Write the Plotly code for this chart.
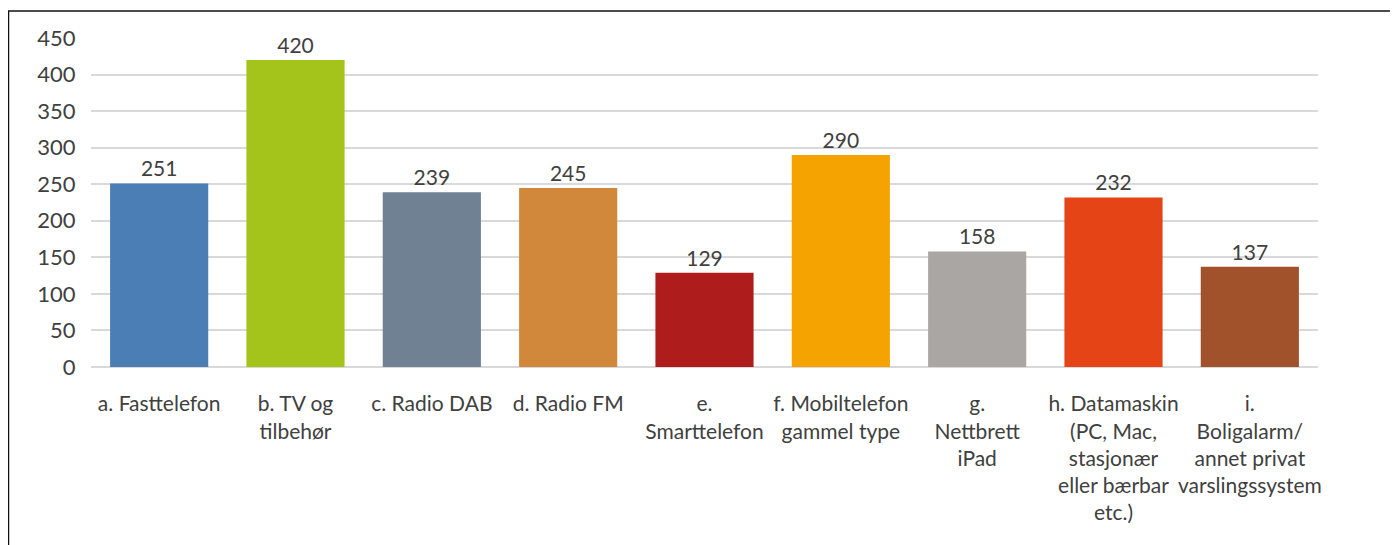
import plotly.graph_objects as go

categories = [
    "a. Fasttelefon",
    "b. TV og<br>tilbehør",
    "c. Radio DAB",
    "d. Radio FM",
    "e.<br>Smarttelefon",
    "f. Mobiltelefon<br>gammel type",
    "g.<br>Nettbrett<br>iPad",
    "h. Datamaskin<br>(PC, Mac,<br>stasjonær<br>eller bærbar<br>etc.)",
    "i.<br>Boligalarm/<br>annet privat<br>varslingssystem",
]
values = [251, 420, 239, 245, 129, 290, 158, 232, 137]
colors = ["#4A7EB5", "#A5C41B", "#6F8193", "#D2883A", "#AE1D1B",
          "#F5A300", "#AAA6A4", "#E44416", "#A1522B"]
y_ticks = [0, 50, 100, 150, 200, 250, 300, 350, 400, 450]

FONT = "Lato, Calibri, Carlito, sans-serif"
TXT = "#404040"

fig = go.Figure(go.Bar(
    x=categories, y=values,
    marker=dict(color=colors, line=dict(width=0)),
    text=[str(v) for v in values], textposition="outside",
    textfont=dict(family=FONT, size=21, color=TXT),
    cliponaxis=False,
))

# page body has an 8px margin, so the figure starts at (8, 8)
OFF = 8
W, H = 1398 - OFF, 545 - OFF
PL, PR, PT, PB = 91, 1318, 38, 367  # plot area in window pixels
L, T = PL - OFF, PT - OFF
R = W - (PR - OFF)
B = H - (PB - OFF)
pw, ph = W - L - R, H - T - B

def px_x(x):
    return (x - OFF - L) / pw

def px_y(y):
    return (H - B - (y - OFF)) / ph

fig.update_layout(
    width=W, height=H,
    margin=dict(l=L, r=R, t=T, b=B, autoexpand=False),
    paper_bgcolor="white", plot_bgcolor="white",
    bargap=0.28,
    showlegend=False,
    font=dict(family=FONT, size=21, color=TXT),
    xaxis=dict(
        tickvals=categories, ticktext=categories,
        tickangle=0, automargin=False,
        ticks="outside", ticklen=18, tickcolor="rgba(0,0,0,0)",
        showline=False, showgrid=False,
        tickfont=dict(family=FONT, size=21, color=TXT),
    ),
    yaxis=dict(
        range=[0, 450], tickvals=y_ticks, automargin=False,
        showgrid=True, gridcolor="#D9D9D9", gridwidth=1.5,
        zeroline=True, zerolinecolor="#D9D9D9", zerolinewidth=1.5,
        ticks="outside", ticklen=10, tickcolor="rgba(0,0,0,0)",
        showline=False,
        tickfont=dict(family=FONT, size=22, color=TXT),
    ),
    shapes=[
        dict(type="line", xref="paper", yref="paper",
             x0=px_x(8), x1=px_x(1398 + 5), y0=px_y(11), y1=px_y(11),
             line=dict(color="#111111", width=1.5)),
        dict(type="line", xref="paper", yref="paper",
             x0=px_x(8.5), x1=px_x(8.5), y0=px_y(11), y1=px_y(545 + 5),
             line=dict(color="#111111", width=1.5)),
    ],
)

fig.write_html("out.html")
